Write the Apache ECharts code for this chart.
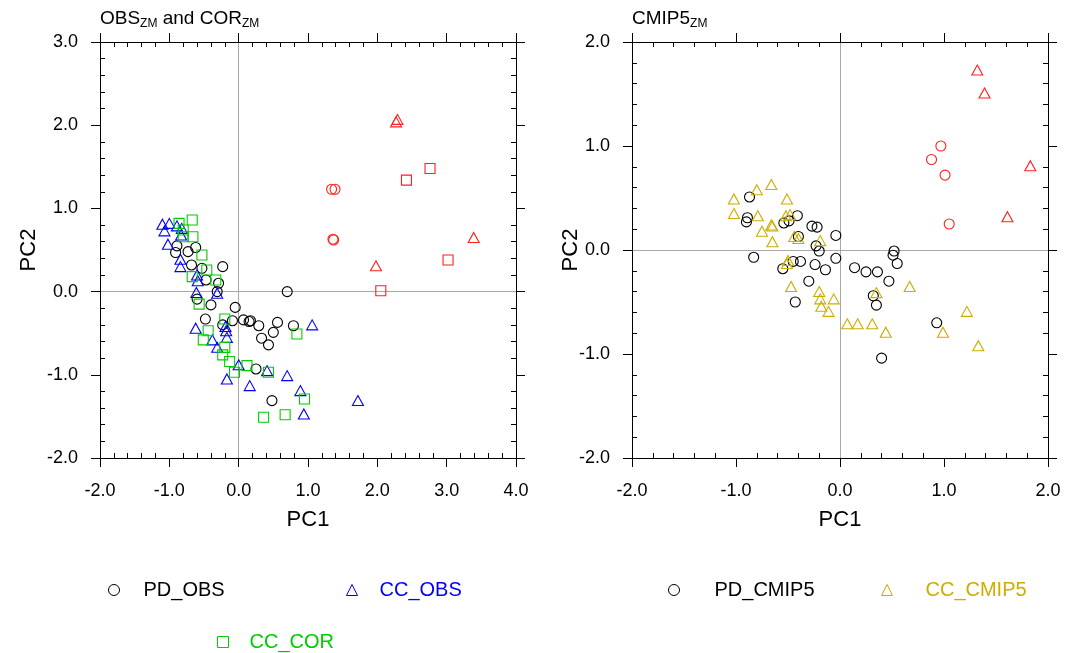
<!DOCTYPE html>
<html><head><meta charset="utf-8">
<script src="https://cdn.jsdelivr.net/npm/echarts@6/dist/echarts.min.js"></script>
<style>html,body{margin:0;padding:0;background:#fff}#c{width:1065px;height:653px}</style>
</head><body><div id="c"></div>
<script>
// ---------- data (PC1, PC2) ----------
const pdObs = [[-0.89,0.55],[-0.91,0.47],[-0.73,0.48],[-0.62,0.53],[-0.68,0.32],[-0.53,0.28],[-0.23,0.30],[-0.47,0.14],[-0.29,0.10],[-0.31,0.00],[-0.60,-0.09],[-0.40,-0.16],[-0.05,-0.19],[-0.48,-0.33],[-0.23,-0.40],[-0.09,-0.35],[0.07,-0.34],[0.15,-0.36],[0.17,-0.35],[0.29,-0.41],[0.56,-0.37],[0.79,-0.41],[0.50,-0.49],[0.33,-0.56],[0.43,-0.64],[0.25,-0.93],[0.48,-1.31],[0.70,0.00]];
const ccObs = [[-1.10,0.81],[-1.00,0.82],[-1.07,0.73],[-0.89,0.79],[-0.82,0.76],[-0.83,0.68],[-1.02,0.57],[-0.84,0.39],[-0.84,0.30],[-0.60,0.20],[-0.59,0.13],[-0.61,-0.01],[-0.31,-0.02],[-0.62,-0.44],[-0.19,-0.42],[-0.18,-0.47],[-0.17,-0.55],[-0.38,-0.58],[-0.31,-0.67],[0.00,-0.88],[0.41,-0.95],[-0.17,-1.05],[0.16,-1.13],[0.70,-1.01],[0.89,-1.19],[0.94,-1.47],[1.72,-1.31],[1.06,-0.40]];
const ccCor = [[-0.86,0.82],[-0.80,0.74],[-0.67,0.86],[-0.66,0.66],[-0.80,0.66],[-0.53,0.44],[-0.46,0.26],[-0.67,0.18],[-0.33,0.14],[-0.57,-0.15],[-0.20,-0.33],[-0.44,-0.47],[-0.51,-0.58],[-0.20,-0.67],[-0.23,-0.76],[-0.13,-0.84],[-0.06,-0.97],[0.12,-0.89],[0.43,-0.97],[0.84,-0.51],[0.95,-1.29],[0.67,-1.48],[0.36,-1.51]];
const obsRedCircle = [[1.34,1.23],[1.39,1.23],[1.36,0.63],[1.37,0.62]];
const obsRedTriangle = [[2.29,2.07],[2.27,2.04],[1.98,0.31],[3.39,0.65]];
const obsRedSquare = [[2.42,1.34],[2.76,1.48],[3.02,0.38],[2.05,0.01]];

const pdCmip5 = [[-0.87,0.51],[-0.89,0.31],[-0.90,0.27],[-0.54,0.26],[-0.49,0.28],[-0.41,0.33],[-0.27,0.23],[-0.22,0.22],[-0.04,0.14],[-0.40,0.13],[-0.23,0.04],[-0.20,-0.01],[-0.04,-0.08],[-0.83,-0.07],[-0.45,-0.11],[-0.38,-0.11],[-0.55,-0.18],[-0.24,-0.14],[-0.14,-0.19],[0.14,-0.17],[0.25,-0.21],[0.36,-0.21],[0.47,-0.30],[0.52,-0.01],[0.51,-0.05],[0.55,-0.13],[-0.30,-0.30],[-0.43,-0.50],[0.32,-0.44],[0.35,-0.53],[0.93,-0.70],[0.40,-1.04]];
const ccCmip5 = [[-1.02,0.49],[-0.80,0.58],[-0.66,0.63],[-0.51,0.49],[-1.02,0.35],[-0.79,0.33],[-0.52,0.33],[-0.48,0.34],[-0.66,0.24],[-0.65,0.23],[-0.75,0.18],[-0.65,0.08],[-0.44,0.13],[-0.40,0.11],[-0.19,0.09],[-0.50,-0.10],[-0.51,-0.13],[-0.47,-0.35],[-0.20,-0.40],[-0.19,-0.47],[-0.06,-0.47],[-0.18,-0.54],[-0.11,-0.59],[0.07,-0.71],[0.17,-0.71],[0.31,-0.71],[0.44,-0.79],[0.35,-0.41],[0.67,-0.35],[0.99,-0.79],[1.22,-0.59],[1.33,-0.92]];
const cmipRedCircle = [[0.97,1.00],[0.88,0.87],[1.01,0.72],[1.05,0.25]];
const cmipRedTriangle = [[1.32,1.73],[1.39,1.51],[1.83,0.81],[1.61,0.32]];

// axis ranges / tick labels
const leftX = {min:-2, max:4, interval:1};
const leftY = {min:-2, max:3, interval:1};
const rightX = {min:-2, max:2, interval:1};
const rightY = {min:-2, max:2, interval:1};

// ---------- styling ----------
const FONT = "'Liberation Sans', Arial, Helvetica, sans-serif";
const BLACK = '#000000', BLUE = '#0000ff', GREEN = '#00cd00', RED = '#ff2020', GOLD = '#cdad00';
const GRIDS = [
  {left:100, top:42, width:416, height:416},
  {left:632, top:42, width:416, height:416}
];

function axisSet(kind, gridIndex, r, withName, nameGap) {
  const fmt = v => v.toFixed(1);
  const isX = kind === 'x';
  const posA = isX ? 'bottom' : 'left';
  const posB = isX ? 'top' : 'right';
  const base = {type:'value', gridIndex, min:r.min, max:r.max, interval:r.interval,
    splitLine:{show:false}, z:5};
  const out = [];
  out.push(Object.assign({}, base, {
    position: posA,
    axisLine:{show:true, onZero:false, lineStyle:{color:BLACK, width:1}},
    axisTick:{show:true, inside:false, length:9, lineStyle:{color:BLACK, width:1}},
    minorTick:{show:false},
    axisLabel:{show:true, formatter:fmt, fontSize:18, color:BLACK, fontFamily:FONT,
      margin: isX ? 24 : 22, showMinLabel:true, showMaxLabel:true},
    name: withName, nameLocation:'middle', nameGap: nameGap, nameMoveOverlap:false,
    nameTextStyle:{fontSize:22, color:BLACK, fontFamily:FONT}
  }));
  out.push(Object.assign({}, base, {
    position: posA,
    axisLine:{show:false, onZero:false},
    axisTick:{show:false, inside:true},
    minorTick:{show:true, splitNumber:5, length:5, lineStyle:{color:BLACK, width:1}},
    axisLabel:{show:false}
  }));
  out.push(Object.assign({}, base, {
    position: posB,
    axisLine:{show:true, onZero:false, lineStyle:{color:BLACK, width:1}},
    axisTick:{show:true, inside:false, length:9, lineStyle:{color:BLACK, width:1}},
    minorTick:{show:false},
    axisLabel:{show:false}
  }));
  out.push(Object.assign({}, base, {
    position: posB,
    axisLine:{show:false, onZero:false},
    axisTick:{show:false, inside:true},
    minorTick:{show:true, splitNumber:5, length:5, lineStyle:{color:BLACK, width:1}},
    axisLabel:{show:false}
  }));
  return out;
}

const xAxes = [].concat(axisSet('x',0,leftX,'PC1',51), axisSet('x',1,rightX,'PC1',51));
const yAxes = [].concat(axisSet('y',0,leftY,'PC2',60), axisSet('y',1,rightY,'PC2',50));

function sc(name, data, symbol, color, axisIdx, extra) {
  return Object.assign({
    type:'scatter', name, data, symbol, symbolSize: symbol==='triangle' ? [11,10] : 10,
    xAxisIndex: axisIdx, yAxisIndex: axisIdx,
    itemStyle:{color:'rgba(0,0,0,0)', borderColor:color, borderWidth:1.1, opacity:1},
    emphasis:{disabled:true}, z:10, animation:false
  }, extra || {});
}
const refLines = {
  silent:true, symbol:'none', animation:false,
  label:{show:false},
  lineStyle:{color:'#a8a8a8', width:1, type:'solid'},
  data:[{xAxis:0},{yAxis:0}]
};

const series = [
  sc('PD_OBS', pdObs, 'circle', BLACK, 0, {markLine: refLines}),
  sc('CC_OBS', ccObs, 'triangle', BLUE, 0),
  sc('CC_COR', ccCor, 'rect', GREEN, 0),
  sc('OBS_red_circle', obsRedCircle, 'circle', RED, 0),
  sc('OBS_red_triangle', obsRedTriangle, 'triangle', RED, 0),
  sc('OBS_red_square', obsRedSquare, 'rect', RED, 0),
  sc('PD_CMIP5', pdCmip5, 'circle', BLACK, 4, {markLine: refLines}),
  sc('CC_CMIP5', ccCmip5, 'triangle', GOLD, 4),
  sc('CMIP5_red_circle', cmipRedCircle, 'circle', RED, 4),
  sc('CMIP5_red_triangle', cmipRedTriangle, 'triangle', RED, 4)
];

function leg(name, color, left, top, textPad) {
  return {
    data:[name], left, top, orient:'horizontal', itemWidth:11, itemHeight:11,
    selectedMode:false,
    itemStyle:{borderWidth:1},
    textStyle:{color, fontSize:20, fontFamily:FONT, padding:[0,0,0,textPad]}
  };
}

const subRich = {
  m:{fontSize:19, fontFamily:FONT, fontWeight:'normal', color:BLACK, lineHeight:22},
  s:{fontSize:12, fontFamily:FONT, fontWeight:'normal', color:BLACK, lineHeight:22, padding:[9,0,0,0]}
};

const option = {
  animation:false,
  backgroundColor:'#ffffff',
  textStyle:{fontFamily:FONT},
  title:[
    {text:'{m|OBS}{s|ZM}{m| and COR}{s|ZM}', left:95, top:3, textStyle:{fontWeight:'normal', rich:subRich}},
    {text:'{m|CMIP5}{s|ZM}', left:627, top:3, textStyle:{fontWeight:'normal', rich:subRich}}
  ],
  grid: GRIDS.map(g => Object.assign({outerBoundsMode:'none', containLabel:false}, g)),
  xAxis: xAxes,
  yAxis: yAxes,
  legend:[
    leg('PD_OBS', BLACK, 103, 575, 19),
    leg('CC_OBS', BLUE, 341, 575, 17),
    leg('CC_COR', GREEN, 212, 627, 16),
    leg('PD_CMIP5', BLACK, 663, 575, 30),
    leg('CC_CMIP5', GOLD, 876, 575, 28)
  ],
  series
};
const chart = echarts.init(document.getElementById('c'), null, {renderer:'canvas'});
chart.setOption(option);
</script></body></html>
